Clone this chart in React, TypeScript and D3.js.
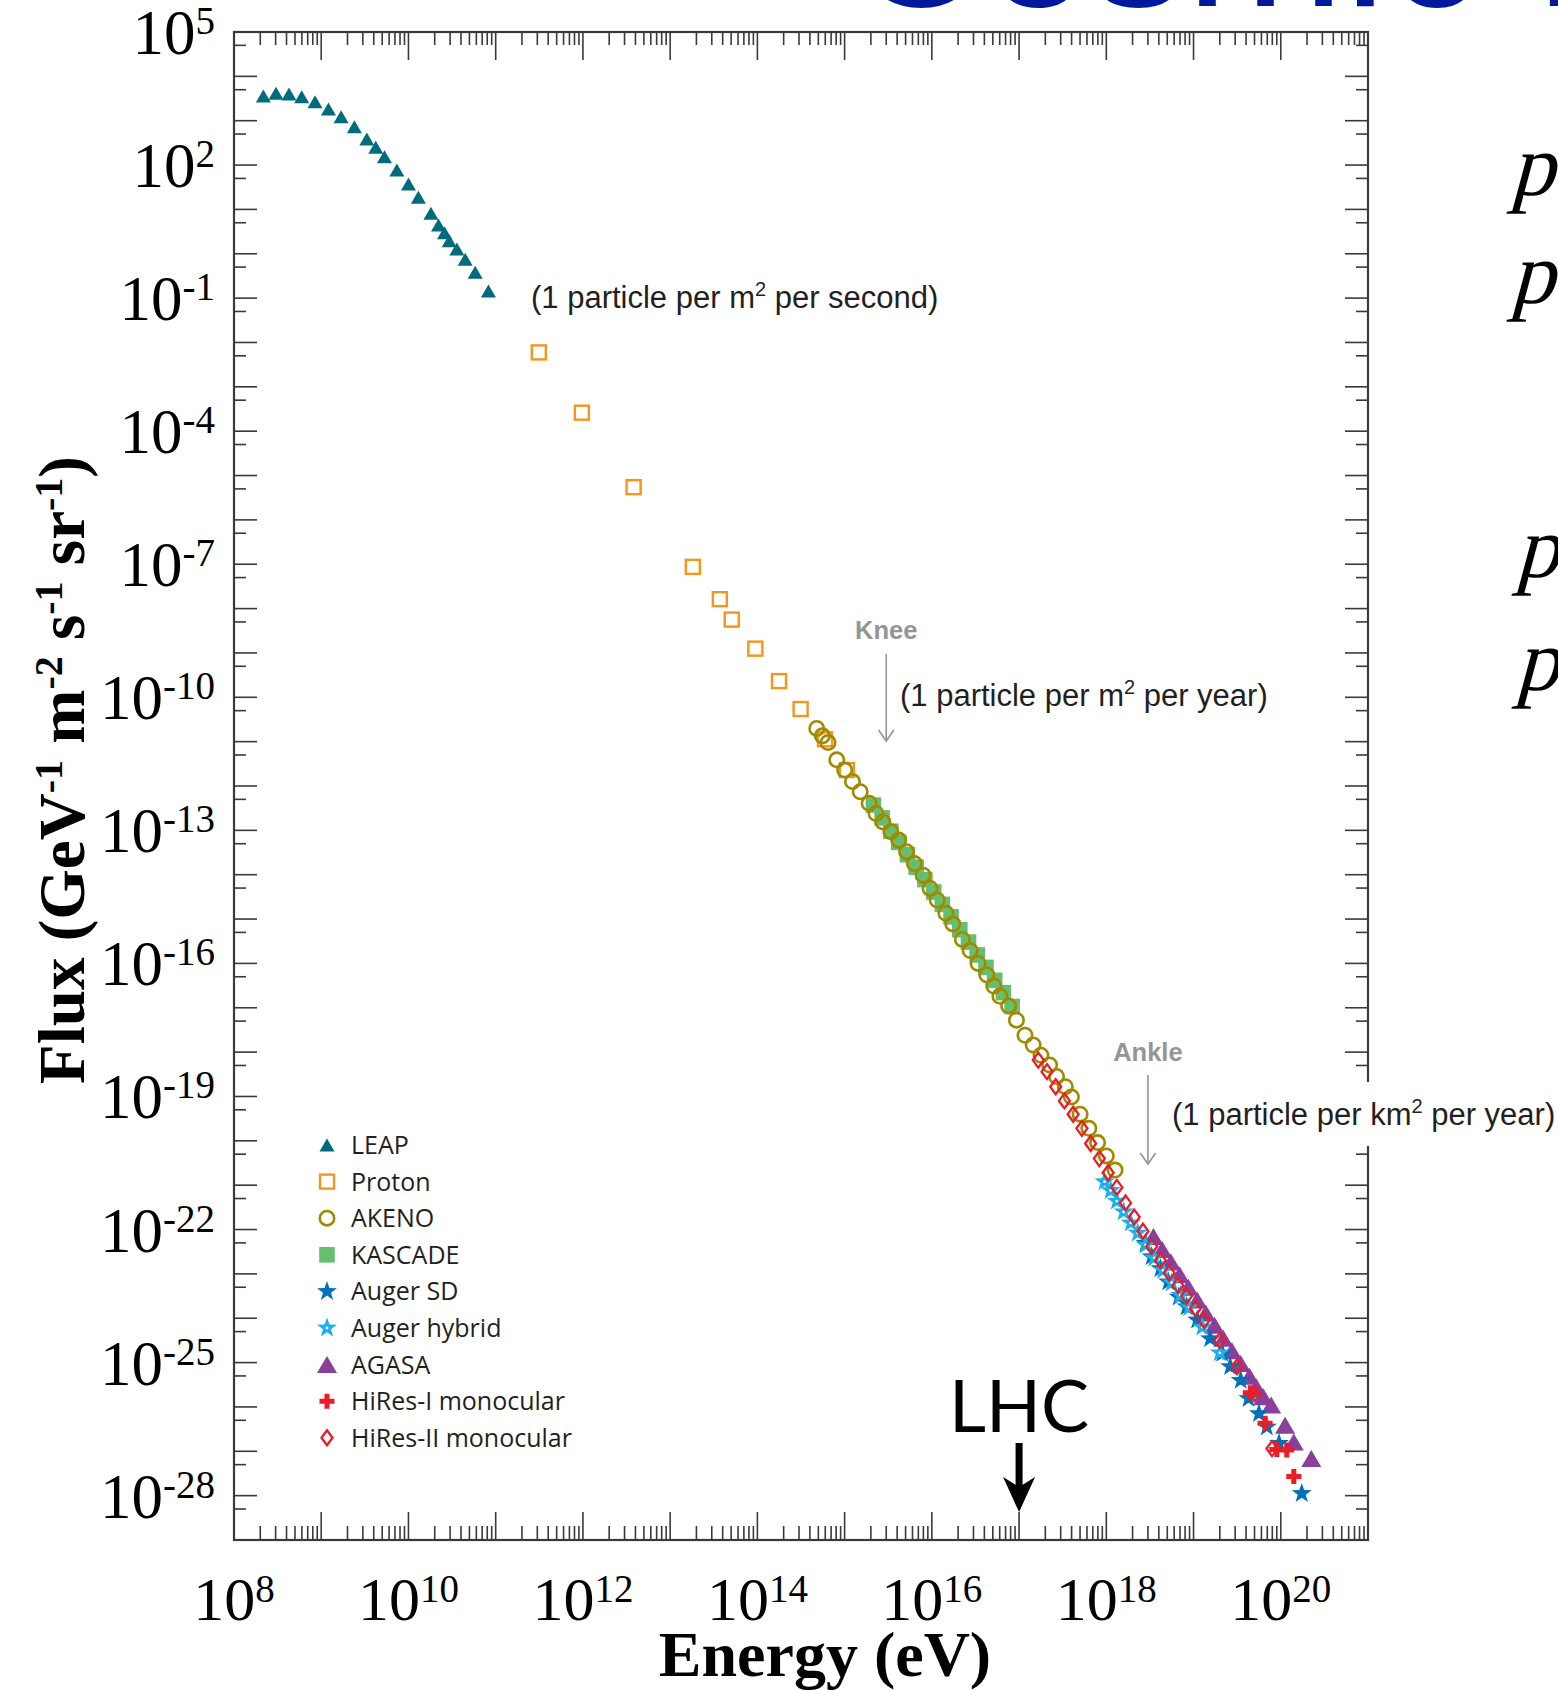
import React from "react";
import * as d3 from "d3";

const WIDTH = 1558;
const HEIGHT = 1690;
const plot = { left: 234, right: 1368, top: 32, bottom: 1540 };

type Pt = [number, number]; // [energy in eV, flux in GeV^-1 m^-2 s^-1 sr^-1]

const leap: Pt[] = [
  [2.17e8, 3.61e3], [3.03e8, 4.15e3], [4.27e8, 4.0e3], [5.97e8, 3.48e3], [8.49e8, 2.68e3],
  [1.21e9, 1.84e3], [1.69e9, 1.23e3], [2.4e9, 733], [3.33e9, 386], [4.22e9, 251],
  [5.31e9, 154], [7.36e9, 77.3], [1.0e10, 37.4], [1.3e10, 18.7], [1.81e10, 8.17],
  [2.21e10, 4.45], [2.59e10, 2.99], [2.93e10, 1.97], [3.59e10, 1.28], [4.47e10, 0.75],
  [5.82e10, 0.382], [8.26e10, 0.145],
];

const proton: Pt[] = [
  [3.12e11, 5.97e-3], [9.72e11, 2.61e-4], [3.81e12, 5.47e-6], [1.82e13, 8.73e-8],
  [3.71e13, 1.63e-8], [5.08e13, 5.64e-9], [9.48e13, 1.25e-9], [1.77e14, 2.32e-10],
  [3.13e14, 5.43e-11], [5.96e14, 1.13e-11], [1.06e15, 2.29e-12],
];

const akeno: Pt[] = [
  [4.79e14, 1.99e-11], [5.56e14, 1.35e-11], [6.46e14, 9.55e-12], [8.13e14, 3.89e-12],
  [1.0e15, 2.29e-12], [1.23e15, 1.26e-12], [1.51e15, 7.41e-13], [1.91e15, 4.07e-13],
  [2.29e15, 2.4e-13], [2.75e15, 1.55e-13], [3.39e15, 9.33e-14], [4.17e15, 6.03e-14],
  [5.13e15, 3.31e-14], [6.31e15, 1.78e-14], [7.94e15, 9.77e-15], [9.55e15, 4.9e-15],
  [1.15e16, 2.69e-15], [1.45e16, 1.35e-15], [1.74e16, 7.76e-16], [2.24e16, 3.47e-16],
  [2.75e16, 1.95e-16], [3.39e16, 1.0e-16], [4.27e16, 5.5e-17], [5.13e16, 3.09e-17],
  [6.03e16, 1.82e-17], [7.59e16, 1.1e-17], [9.33e16, 5.25e-18], [1.17e17, 2.4e-18],
  [1.45e17, 1.45e-18], [1.78e17, 8.51e-19], [2.24e17, 5.13e-19], [2.69e17, 2.82e-19],
  [3.39e17, 1.66e-19], [3.98e17, 9.77e-20], [5.01e17, 3.98e-20], [6.31e17, 1.91e-20],
  [7.94e17, 9.12e-21], [1.0e18, 4.57e-21], [1.26e18, 2.19e-21],
];

const kascade: Pt[] = [
  [2.14e15, 3.72e-13], [2.69e15, 1.91e-13], [3.39e15, 9.55e-14], [4.17e15, 5.37e-14],
  [5.25e15, 2.82e-14], [6.61e15, 1.48e-14], [8.32e15, 7.76e-15], [1.05e16, 4.07e-15],
  [1.32e16, 2.14e-15], [1.66e16, 1.12e-15], [2.09e16, 5.75e-16], [2.63e16, 3.02e-16],
  [3.31e16, 1.55e-16], [4.17e16, 8.13e-17], [5.25e16, 4.17e-17], [6.61e16, 2.19e-17],
  [8.32e16, 1.07e-17],
];

const augerSD: Pt[] = [
  [2.82e18, 4.9e-23], [3.31e18, 2.45e-23], [4.17e18, 1.32e-23], [5.13e18, 6.61e-24],
  [6.76e18, 3.02e-24], [8.32e18, 1.82e-24], [1.1e19, 9.12e-25], [1.55e19, 3.47e-25],
  [2.14e19, 1.62e-25], [2.63e19, 8.13e-26], [3.47e19, 3.98e-26], [4.27e19, 1.55e-26],
  [5.62e19, 7.08e-27], [6.92e19, 3.55e-27], [9.55e19, 1.51e-27], [1.74e20, 1.12e-28],
];

const augerHybrid: Pt[] = [
  [9.55e17, 1.2e-21], [1.12e18, 7.59e-22], [1.32e18, 4.37e-22], [1.58e18, 2.51e-22],
  [1.91e18, 1.41e-22], [2.29e18, 8.32e-23], [2.82e18, 4.47e-23], [3.55e18, 2.29e-23],
  [4.47e18, 1.2e-23], [5.62e18, 6.31e-24], [7.08e18, 3.31e-24], [8.91e18, 1.74e-24],
  [1.26e19, 6.31e-25], [2.0e19, 1.66e-25],
];

const agasa: Pt[] = [
  [3.47e18, 6.92e-23], [4.37e18, 3.55e-23], [5.5e18, 1.86e-23], [6.92e18, 9.55e-24],
  [8.71e18, 5.01e-24], [1.1e19, 2.57e-24], [1.38e19, 1.32e-24], [1.74e19, 6.92e-25],
  [2.19e19, 3.55e-25], [2.75e19, 1.86e-25], [3.47e19, 9.55e-26], [4.37e19, 4.9e-26],
  [5.25e19, 2.82e-26], [6.31e19, 1.7e-26], [7.76e19, 1.1e-26], [1.12e20, 3.89e-27],
  [1.41e20, 1.62e-27], [2.24e20, 6.92e-28],
];

const hires1: Pt[] = [
  [4.47e19, 2.09e-26], [6.61e19, 4.27e-27], [9.02e19, 1.1e-27], [1.17e20, 1.07e-27],
  [1.41e20, 2.69e-28],
];

const hires2: Pt[] = [
  [1.66e17, 6.61e-19], [2.09e17, 3.63e-19], [2.63e17, 1.66e-19], [3.31e17, 7.94e-20],
  [4.17e17, 3.98e-20], [5.25e17, 1.91e-20], [6.61e17, 8.71e-21], [8.32e17, 3.98e-21],
  [1.05e18, 1.91e-21], [1.32e18, 8.91e-22], [1.66e18, 3.98e-22], [2.09e18, 1.91e-22],
  [2.63e18, 9.12e-23], [3.31e18, 4.17e-23], [4.17e18, 2.0e-23], [5.25e18, 1.05e-23],
  [6.61e18, 5.5e-24], [8.32e18, 3.16e-24], [1.05e19, 1.66e-24], [1.32e19, 8.91e-25],
  [2.0e19, 3.16e-25], [3.16e19, 8.13e-26], [5.01e19, 2.0e-26], [7.94e19, 1.15e-27],
];

const xLabelExponents = [8, 10, 12, 14, 16, 18, 20];
const yLabelExponents = [5, 2, -1, -4, -7, -10, -13, -16, -19, -22, -25, -28];

type MarkerKind =
  | "leap" | "proton" | "akeno" | "kascade" | "augerSD" | "augerHybrid" | "agasa" | "hires1" | "hires2";

const legendEntries: { kind: MarkerKind; label: string }[] = [
  { kind: "leap", label: "LEAP" },
  { kind: "proton", label: "Proton" },
  { kind: "akeno", label: "AKENO" },
  { kind: "kascade", label: "KASCADE" },
  { kind: "augerSD", label: "Auger SD" },
  { kind: "augerHybrid", label: "Auger hybrid" },
  { kind: "agasa", label: "AGASA" },
  { kind: "hires1", label: "HiRes-I monocular" },
  { kind: "hires2", label: "HiRes-II monocular" },
];

// back-to-front drawing order
const layers: { kind: MarkerKind; data: Pt[] }[] = [
  { kind: "kascade", data: kascade },
  { kind: "proton", data: proton },
  { kind: "akeno", data: akeno },
  { kind: "leap", data: leap },
  { kind: "agasa", data: agasa },
  { kind: "augerSD", data: augerSD },
  { kind: "augerHybrid", data: augerHybrid },
  { kind: "hires2", data: hires2 },
  { kind: "hires1", data: hires1 },
];

const trianglePath = (w: number, h: number) => {
  const p = d3.path();
  p.moveTo(0, -h / 2);
  p.lineTo(w / 2, h / 2);
  p.lineTo(-w / 2, h / 2);
  p.closePath();
  return p.toString();
};

const starPath = (R: number) => {
  const r = R * 0.4;
  const p = d3.path();
  for (let i = 0; i < 10; i++) {
    const a = -Math.PI / 2 + (i * Math.PI) / 5;
    const rr = i % 2 === 0 ? R : r;
    if (i === 0) p.moveTo(rr * Math.cos(a), rr * Math.sin(a));
    else p.lineTo(rr * Math.cos(a), rr * Math.sin(a));
  }
  p.closePath();
  return p.toString();
};

const crossPath = (w: number, t: number) => {
  const a = t / 2;
  const b = w / 2;
  return `M${-a},${-b}H${a}V${-a}H${b}V${a}H${a}V${b}H${-a}V${a}H${-b}V${-a}H${-a}Z`;
};

const diamondPath = (w: number, h: number) =>
  `M0,${-h / 2}L${w / 2},0L0,${h / 2}L${-w / 2},0Z`;

const LEAP_TRI = trianglePath(15, 13);
const AGASA_TRI = trianglePath(20, 17);
const STAR = starPath(10.5);
const CROSS = crossPath(15, 5);
const DIAMOND = diamondPath(11, 15);

function Marker({ kind, cx, cy }: { kind: MarkerKind; cx: number; cy: number }) {
  const t = `translate(${cx},${cy})`;
  switch (kind) {
    case "leap":
      return <path d={LEAP_TRI} transform={t} fill="#006b7d" />;
    case "proton":
      return <rect x={cx - 7} y={cy - 7} width={14} height={14} fill="none" stroke="#f7941d" strokeWidth={2.4} />;
    case "akeno":
      return <circle cx={cx} cy={cy} r={7.2} fill="none" stroke="#a08a00" strokeWidth={2.6} />;
    case "kascade":
      return <rect x={cx - 7.8} y={cy - 7.8} width={15.6} height={15.6} fill="#66bf6f" />;
    case "augerSD":
      return <path d={STAR} transform={t} fill="#0072bc" />;
    case "augerHybrid":
      return (
        <g transform={t}>
          <path d={STAR} fill="#1cb0ec" />
          <circle r={1.4} fill="#ffffff" />
        </g>
      );
    case "agasa":
      return <path d={AGASA_TRI} transform={t} fill="#8c3f98" />;
    case "hires1":
      return <path d={CROSS} transform={t} fill="#ed1c24" />;
    case "hires2":
      return <path d={DIAMOND} transform={t} fill="none" stroke="#ed1c24" strokeWidth={2.3} />;
  }
  return null;
}

export default function App() {
  const x = d3.scaleLog().domain([1e8, 1e21]).range([plot.left, plot.right]);
  const y = d3.scaleLog().domain([1e-29, 1e5]).range([plot.bottom, plot.top]);

  const xMajor: number[] = [];
  const xMinor: number[] = [];
  for (let k = 8; k <= 21; k++) {
    xMajor.push(Math.pow(10, k));
    if (k < 21) for (let m = 2; m <= 9; m++) xMinor.push(m * Math.pow(10, k));
  }
  const yMajor: number[] = [];
  const yMinor: number[] = [];
  for (let k = -29; k <= 5; k++) {
    yMajor.push(Math.pow(10, k));
    if (k < 5) yMinor.push(5 * Math.pow(10, k));
  }

  const axisColor = "#3a3a3a";
  const serif = "'Liberation Serif', 'Times New Roman', serif";
  const sans = "'Liberation Sans', Arial, sans-serif";
  const legendFont = "'Open Sans', 'Noto Sans', sans-serif";
  const annColor = "#231f20";
  const grey = "#939598";

  const kneeX = x(3e15);
  const ankleX = x(3e18);
  const lhcX = x(1e17);

  // momentum symbols of the equations at the right edge
  const pGlyphs: [number, number][] = [
    [1510, 195],
    [1510, 303],
    [1515, 577],
    [1515, 690],
  ];

  return (
    <svg
      width={WIDTH}
      height={HEIGHT}
      viewBox={`0 0 ${WIDTH} ${HEIGHT}`}
      style={{ position: "absolute", left: 0, top: 0, display: "block", background: "#ffffff" }}
    >
      <rect width={WIDTH} height={HEIGHT} fill="#ffffff" />

      {/* heading running off the top edge */}
      <text x={848} y={6} fontFamily={sans} fontSize={190} fill="#00189b">
        Cosmic Rays
      </text>

      {/* equations running off the right edge */}
      <g fontFamily={serif} fontSize={88} fill="#000000">
        {pGlyphs.map(([px, py], i) => (
          <text key={i} transform={`translate(${px},${py}) skewX(-15)`}>
            p
          </text>
        ))}
      </g>

      {/* ticks */}
      <g stroke={axisColor} strokeWidth={1.6}>
        {xMajor.map((v) => (
          <g key={`xM${v}`}>
            <line x1={x(v)} x2={x(v)} y1={plot.bottom} y2={plot.bottom - 28} />
            <line x1={x(v)} x2={x(v)} y1={plot.top} y2={plot.top + 28} />
          </g>
        ))}
        {xMinor.map((v) => (
          <g key={`xm${v}`}>
            <line x1={x(v)} x2={x(v)} y1={plot.bottom} y2={plot.bottom - 14} />
            <line x1={x(v)} x2={x(v)} y1={plot.top} y2={plot.top + 13} />
          </g>
        ))}
        {yMajor.map((v) => (
          <g key={`yM${v}`}>
            <line x1={plot.left} x2={plot.left + 23} y1={y(v)} y2={y(v)} />
            <line x1={plot.right} x2={plot.right - 23} y1={y(v)} y2={y(v)} />
          </g>
        ))}
        {yMinor.map((v) => (
          <g key={`ym${v}`}>
            <line x1={plot.left} x2={plot.left + 12} y1={y(v)} y2={y(v)} />
            <line x1={plot.right} x2={plot.right - 12} y1={y(v)} y2={y(v)} />
          </g>
        ))}
      </g>
      <rect
        x={plot.left}
        y={plot.top}
        width={plot.right - plot.left}
        height={plot.bottom - plot.top}
        fill="none"
        stroke={axisColor}
        strokeWidth={2.2}
      />

      {/* tick labels */}
      <g fontFamily={serif} fill="#000000">
        {yLabelExponents.map((e) => (
          <text key={`yl${e}`} x={215} y={y(Math.pow(10, e)) + 22} textAnchor="end" fontSize={63}>
            10
            <tspan dy={-20} fontSize={39}>
              {String(e)}
            </tspan>
          </text>
        ))}
        {xLabelExponents.map((e) => (
          <text key={`xl${e}`} x={x(Math.pow(10, e))} y={1620} textAnchor="middle" fontSize={62}>
            10
            <tspan dy={-18} fontSize={39}>
              {String(e)}
            </tspan>
          </text>
        ))}
      </g>

      {/* axis titles */}
      <text x={825} y={1676} textAnchor="middle" fontFamily={serif} fontWeight="bold" fontSize={64}>
        Energy (eV)
      </text>
      <text
        transform="translate(84,770) rotate(-90)"
        textAnchor="middle"
        fontFamily={serif}
        fontWeight="bold"
        fontSize={65}
      >
        Flux (GeV
        <tspan dy={-22} fontSize={40}>-1</tspan>
        <tspan dy={22}>{" m"}</tspan>
        <tspan dy={-22} fontSize={40}>-2</tspan>
        <tspan dy={22}>{" s"}</tspan>
        <tspan dy={-22} fontSize={40}>-1</tspan>
        <tspan dy={22}>{" sr"}</tspan>
        <tspan dy={-22} fontSize={40}>-1</tspan>
        <tspan dy={22}>)</tspan>
      </text>

      {/* data */}
      {layers.map((layer) => (
        <g key={layer.kind}>
          {layer.data.map((d, i) => (
            <Marker key={i} kind={layer.kind} cx={x(d[0])} cy={y(d[1])} />
          ))}
        </g>
      ))}

      {/* legend */}
      <g fontFamily={legendFont} fontSize={25} fill={annColor}>
        {legendEntries.map((entry, i) => {
          const cy = 1145 + i * 36.6;
          return (
            <g key={entry.kind}>
              <Marker kind={entry.kind} cx={327} cy={cy} />
              <text x={351} y={cy + 9}>
                {entry.label}
              </text>
            </g>
          );
        })}
      </g>

      {/* flux annotations */}
      <g fontFamily={sans} fontSize={31} fill={annColor}>
        <text x={531} y={308}>
          (1 particle per m<tspan dy={-12} fontSize={20}>2</tspan>
          <tspan dy={12}>{" per second)"}</tspan>
        </text>
        <text x={900} y={706}>
          (1 particle per m<tspan dy={-12} fontSize={20}>2</tspan>
          <tspan dy={12}>{" per year)"}</tspan>
        </text>
      </g>

      <g stroke={grey} strokeWidth={1.6} fill="none">
        <line x1={kneeX} x2={kneeX} y1={654} y2={741} />
        <polyline points={`${kneeX - 7.7},730 ${kneeX},741 ${kneeX + 7.7},730`} />
        <line x1={ankleX} x2={ankleX} y1={1075} y2={1164} />
        <polyline points={`${ankleX - 7.7},1153 ${ankleX},1164 ${ankleX + 7.7},1153`} />
      </g>
      <g fontFamily={sans} fontWeight="bold" fontSize={25.5} fill={grey}>
        <text x={kneeX} y={639} textAnchor="middle">Knee</text>
        <text x={ankleX} y={1061} textAnchor="middle">Ankle</text>
      </g>

      <rect x={1166} y={1082} width={392} height={64} fill="#ffffff" />
      <text x={1172} y={1125} fontFamily={sans} fontSize={31} fill={annColor}>
        (1 particle per km<tspan dy={-12} fontSize={20}>2</tspan>
        <tspan dy={12}>{" per year)"}</tspan>
      </text>

      {/* LHC marker */}
      <text x={lhcX} y={1432} textAnchor="middle" fontFamily="Lato, 'Open Sans', sans-serif" fontSize={72} fill="#000000">
        LHC
      </text>
      <line x1={lhcX} x2={lhcX} y1={1443} y2={1488} stroke="#000000" strokeWidth={7} />
      <path
        d={`M${lhcX},1512 L${lhcX - 16},1477 L${lhcX},1487 L${lhcX + 16},1477 Z`}
        fill="#000000"
      />
    </svg>
  );
}
